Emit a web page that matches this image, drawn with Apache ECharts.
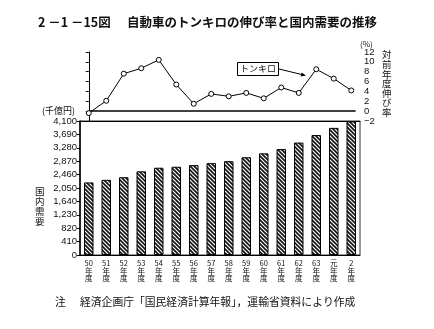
<!DOCTYPE html>
<html>
<head>
<meta charset="utf-8">
<script src="https://cdn.jsdelivr.net/npm/echarts@6/dist/echarts.min.js"></script>
<style>
html,body{margin:0;padding:0;background:#fff;}
#c{width:434px;height:329px;}
</style>
</head>
<body>
<div id="c"></div>
<script>
// 年度 (fiscal years)
const years = ['50', '51', '52', '53', '54', '55', '56', '57', '58', '59', '60', '61', '62', '63', '元', '2'];
// 自動車のトンキロ 対前年度伸び率 (%)
const tonkiloGrowth = [-0.4, 2.1, 7.6, 8.7, 10.4, 5.4, 1.5, 3.5, 3.0, 3.7, 2.6, 4.8, 3.7, 8.5, 6.6, 4.2];
// 国内需要 (千億円)
const domesticDemand = [2220, 2300, 2380, 2560, 2670, 2700, 2750, 2810, 2870, 2990, 3110, 3240, 3440, 3670, 3890, 4090];
// axis ticks
const demandTicks = [0, 410, 820, 1230, 1640, 2050, 2460, 2870, 3280, 3690, 4100];
const growthTicks = [-2, 0, 2, 4, 6, 8, 10, 12];

const CJK = '"Noto Sans CJK JP", "Noto Sans", sans-serif';
const NUM = '"Liberation Sans", "DejaVu Sans", sans-serif';

// diagonal hatch fill for the bars
function hatch() {
  const c = document.createElement('canvas');
  c.width = 4; c.height = 4;
  const g = c.getContext('2d');
  g.fillStyle = '#fff';
  g.fillRect(0, 0, 4, 4);
  g.strokeStyle = '#111';
  g.lineWidth = 1.6;
  g.beginPath();
  g.moveTo(-1, -1); g.lineTo(5, 5);
  g.moveTo(-1, 3); g.lineTo(1, 5);
  g.moveTo(3, -1); g.lineTo(5, 1);
  g.stroke();
  return c;
}

const chart = echarts.init(document.getElementById('c'), null, { renderer: 'canvas' });

const lineData = tonkiloGrowth.map((v, i) => [i, v]);

chart.setOption({
  animation: false,
  backgroundColor: '#fff',
  grid: [
    { left: 80, right: 74, top: 52, height: 69 },
    { left: 80, right: 74, top: 121, height: 134, show: true, borderColor: '#333', borderWidth: 1, backgroundColor: 'transparent' }
  ],
  xAxis: [
    {
      gridIndex: 0, type: 'value', min: -0.5, max: years.length - 0.5,
      axisLine: { show: true, onZero: false, lineStyle: { color: '#000', width: 1.2 } },
      axisTick: { show: false }, axisLabel: { show: false }, splitLine: { show: false }
    },
    {
      gridIndex: 1, type: 'category', data: years.map(y => y + '\n年\n度'),
      axisLine: { show: true, lineStyle: { color: '#000', width: 1.2 } },
      axisTick: { show: false },
      axisLabel: { interval: 0, fontFamily: CJK, fontSize: 7.5, lineHeight: 7.2, color: '#111', margin: 5 }
    }
  ],
  yAxis: [
    {
      gridIndex: 0, type: 'value', position: 'right',
      min: growthTicks[0], max: growthTicks[growthTicks.length - 1], interval: growthTicks[1] - growthTicks[0],
      axisLine: { show: true, lineStyle: { color: '#000', width: 1 } },
      axisTick: { show: true, inside: true, length: 3, lineStyle: { color: '#000' } },
      axisLabel: {
        fontFamily: NUM, fontSize: 9.5, color: '#111', margin: 4,
        formatter: v => (v < 0 ? '\u2212' + Math.abs(v) : String(v))
      },
      splitLine: { show: false }
    },
    {
      gridIndex: 1, type: 'value', position: 'left',
      min: demandTicks[0], max: demandTicks[demandTicks.length - 1], interval: demandTicks[1] - demandTicks[0],
      axisLine: { show: true, lineStyle: { color: '#000', width: 1.5 } },
      axisTick: { show: true, length: 3, lineStyle: { color: '#000' } },
      axisLabel: {
        fontFamily: NUM, fontSize: 9.5, color: '#111', margin: 3,
        formatter: v => v.toLocaleString('en-US')
      },
      splitLine: { show: false }
    }
  ],
  series: [
    {
      type: 'line', xAxisIndex: 0, yAxisIndex: 0, data: lineData,
      symbol: 'circle', symbolSize: 5,
      lineStyle: { color: '#000', width: 1 },
      itemStyle: { color: '#fff', borderColor: '#000', borderWidth: 1 },
      z: 5,
      markLine: {
        silent: true, symbol: ['none', 'none'],
        label: { show: false },
        lineStyle: { color: '#000', width: 1.5, type: 'solid' },
        data: [[{ coord: [0, 0] }, { coord: [years.length - 0.75, 0] }]]
      }
    },
    {
      type: 'bar', xAxisIndex: 1, yAxisIndex: 1, data: domesticDemand,
      barWidth: 9.5,
      itemStyle: { color: { image: hatch(), repeat: 'repeat' }, borderColor: '#000', borderWidth: 1 }
    }
  ],
  graphic: [
    { type: 'text', left: 38, top: 16, style: { text: '2 －1 －15図', font: 'bold 12.5px ' + CJK, fill: '#111' } },
    { type: 'text', left: 127, top: 16, style: { text: '自動車のトンキロの伸び率と国内需要の推移', font: 'bold 12.5px ' + CJK, fill: '#111' } },
    { type: 'text', left: 360, top: 40, style: { text: '(%)', font: '8px ' + CJK, fill: '#111' } },
    { type: 'text', left: 382, top: 50, style: { text: '対\n前\n年\n度\n伸\nび\n率', font: '9.5px ' + CJK, lineHeight: 9.6, fill: '#111' } },
    { type: 'text', left: 42, top: 106, style: { text: '(千億円)', font: '9px ' + CJK, fill: '#111' } },
    { type: 'text', left: 35, top: 186, style: { text: '国\n内\n需\n要', font: '9.5px ' + CJK, lineHeight: 10, fill: '#111' } },
    {
      type: 'group', left: 237, top: 62, children: [
        { type: 'rect', shape: { x: 0, y: 0, width: 41, height: 13 }, style: { fill: '#fff', stroke: '#000', lineWidth: 1 } },
        { type: 'text', x: 20.5, y: 6.5, style: { text: 'トンキロ', font: '9px ' + CJK, fill: '#111', align: 'center', verticalAlign: 'middle' } }
      ]
    },
    { type: 'line', shape: { x1: 279, y1: 69, x2: 302, y2: 74.6 }, style: { stroke: '#000', lineWidth: 1 } },
    { type: 'polygon', shape: { points: [[306, 75.6], [300.6, 76.4], [301.6, 72.4]] }, style: { fill: '#000' } },
    { type: 'text', left: 55, top: 297, style: { text: '注', font: '10.8px ' + CJK, fill: '#111' } },
    { type: 'text', left: 80, top: 297, style: { text: '経済企画庁「国民経済計算年報」，運輸省資料により作成', font: '10.8px ' + CJK, fill: '#111' } }
  ]
});
</script>
</body>
</html>
